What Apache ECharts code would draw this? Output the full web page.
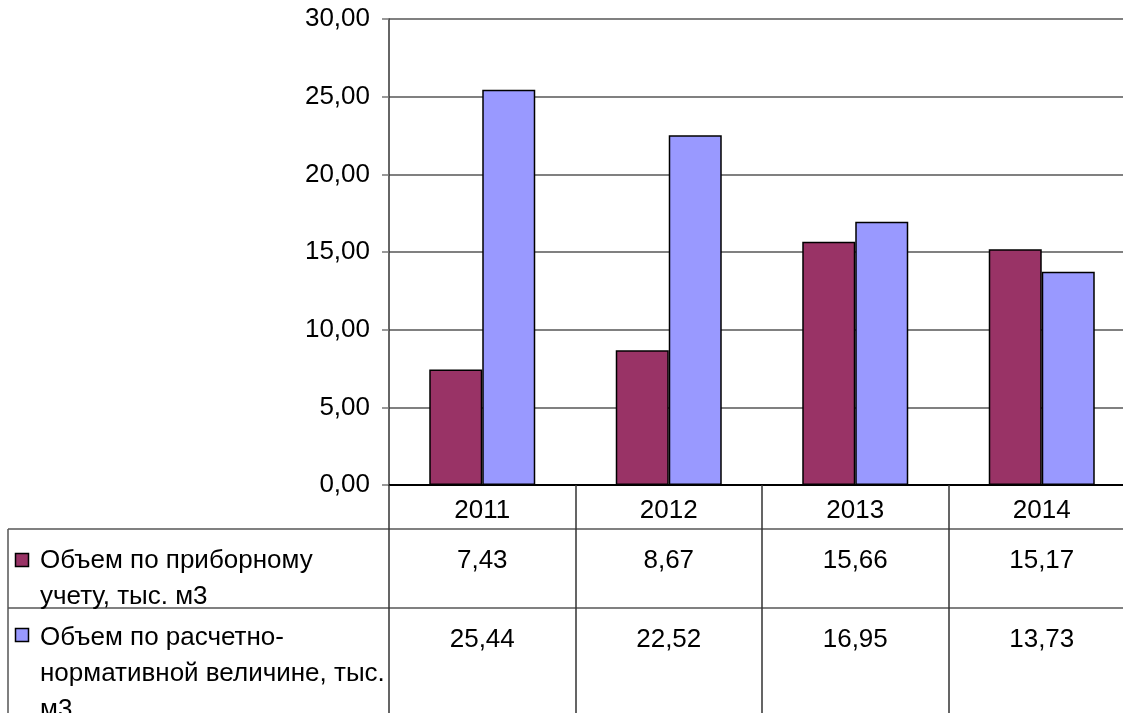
<!DOCTYPE html>
<html><head><meta charset="utf-8">
<script src="https://cdn.jsdelivr.net/npm/echarts@6/dist/echarts.min.js"></script>
<style>html,body{margin:0;padding:0;background:#fff}#c{width:1123px;height:713px}</style>
</head><body><div id="c"></div>
<script>
const categories = ['2011', '2012', '2013', '2014'];
const seriesNames = ['Объем по приборному учету, тыс. м3', 'Объем по расчетно-нормативной величине, тыс. м3'];
const meteredValues = [7.43, 8.67, 15.66, 15.17];
const normativeValues = [25.44, 22.52, 16.95, 13.73];
const rowLabelLines = [
  ['Объем по приборному', 'учету, тыс. м3'],
  ['Объем по расчетно-', 'нормативной величине, тыс.', 'м3']
];
const colors = ['#993366', '#9999FF'];

const FONT = '"Liberation Sans", Arial, sans-serif';
const FS = 26;
const fmt = v => v.toFixed(2).replace('.', ',');

const chart = echarts.init(document.getElementById('c'), null, {renderer: 'canvas'});
const labelBase = {fontFamily: FONT, fontSize: FS, color: '#000'};

const option = {
  backgroundColor: '#fff',
  animation: false,
  grid: {left: 389, width: 746, top: 19, bottom: 228, containLabel: false, outerBoundsMode: 'none'},
  xAxis: [
    {
      type: 'category', data: categories, position: 'bottom',
      axisLine: {show: true, lineStyle: {color: '#000', width: 2}},
      axisTick: {show: true, length: 230, lineStyle: {color: '#333', width: 1.5}},
      axisLabel: Object.assign({margin: 13}, labelBase),
      splitLine: {show: false}
    },
    {
      type: 'category', data: categories, position: 'bottom', offset: 50,
      axisLine: {show: false}, axisTick: {show: false},
      axisLabel: Object.assign({margin: 13, formatter: (v, i) => fmt(meteredValues[i])}, labelBase)
    },
    {
      type: 'category', data: categories, position: 'bottom', offset: 129,
      axisLine: {show: false}, axisTick: {show: false},
      axisLabel: Object.assign({margin: 13, formatter: (v, i) => fmt(normativeValues[i])}, labelBase)
    }
  ],
  yAxis: {
    type: 'value', min: 0, max: 30, interval: 5,
    axisLine: {show: true, lineStyle: {color: '#333', width: 1.5}},
    axisTick: {show: true, length: 7, lineStyle: {color: '#777', width: 1.5}},
    axisLabel: Object.assign({margin: 19, padding: [6, 0, 0, 0], formatter: v => fmt(v)}, labelBase),
    splitLine: {show: true, lineStyle: {color: '#808080', width: 2}}
  },
  series: [
    {
      name: seriesNames[0], type: 'bar', data: meteredValues, xAxisIndex: 0,
      barWidth: 53, barGap: '0%',
      itemStyle: {color: colors[0], borderColor: '#000', borderWidth: 1.5}
    },
    {
      name: seriesNames[1], type: 'bar', data: normativeValues, xAxisIndex: 0,
      barWidth: 53, barGap: '0%',
      itemStyle: {color: colors[1], borderColor: '#000', borderWidth: 1.5}
    }
  ],
  graphic: [
    {type: 'line', shape: {x1: 8, y1: 529, x2: 1123, y2: 529}, style: {stroke: '#808080', lineWidth: 2}},
    {type: 'line', shape: {x1: 8, y1: 608, x2: 1123, y2: 608}, style: {stroke: '#808080', lineWidth: 2}},
    {type: 'line', shape: {x1: 8, y1: 529, x2: 8, y2: 713}, style: {stroke: '#555', lineWidth: 1.5}},
    {type: 'rect', shape: {x: 15.5, y: 553.5, width: 13, height: 13}, style: {fill: colors[0], stroke: '#000', lineWidth: 1.5}},
    {type: 'rect', shape: {x: 15.5, y: 628.5, width: 13, height: 13}, style: {fill: colors[1], stroke: '#000', lineWidth: 1.5}},
    {type: 'text', x: 40, y: 543, style: {text: rowLabelLines[0].join('\n'), font: FS + 'px ' + FONT, fill: '#000', lineHeight: 36, verticalAlign: 'top'}},
    {type: 'text', x: 40, y: 620, style: {text: rowLabelLines[1].join('\n'), font: FS + 'px ' + FONT, fill: '#000', lineHeight: 36, verticalAlign: 'top'}}
  ]
};
chart.setOption(option);
</script></body></html>
